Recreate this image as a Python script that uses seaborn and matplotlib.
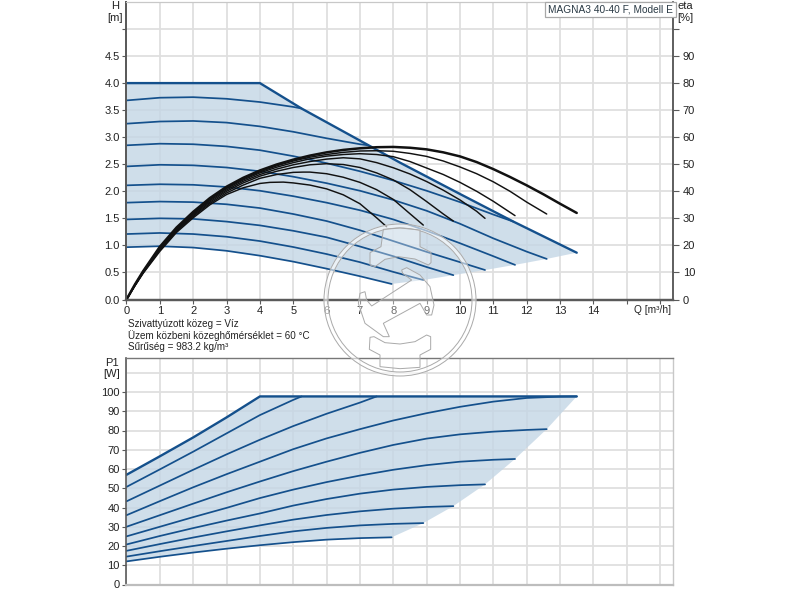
import matplotlib
matplotlib.use('Agg')
import matplotlib.pyplot as plt
import seaborn as sns
from matplotlib.patches import Polygon, Circle
from matplotlib.transforms import Affine2D

# H curves, blue, top to bottom: (Q, H)
h_limit_q = [0, 4, 5.25, 7.2, 8.2, 10, 11.6, 13.5]
h_limit = [4.0, 4.0, 3.53, 2.87, 2.53, 1.95, 1.44, 0.865]
h1_q = [0, 1, 2, 3, 4, 5, 5.25]
h1 = [3.68, 3.73, 3.74, 3.71, 3.65, 3.56, 3.53]
h2_q = [0, 1, 2, 3, 4, 5, 6, 7, 7.25]
h2 = [3.25, 3.29, 3.30, 3.27, 3.20, 3.10, 2.98, 2.87, 2.85]
h3_q = [0, 1, 2, 3, 4, 5, 6, 7, 8, 9, 10, 11, 11.6]
h3 = [2.85, 2.88, 2.87, 2.83, 2.76, 2.65, 2.52, 2.37, 2.20, 2.01, 1.80, 1.57, 1.44]
h4_q = [0, 1, 2, 3, 4, 5, 6, 7, 8, 9, 10, 11, 12, 12.6]
h4 = [2.46, 2.49, 2.48, 2.44, 2.37, 2.27, 2.15, 2.01, 1.84, 1.64, 1.40, 1.13, 0.885, 0.75]
h5_q = [0, 1, 2, 3, 4, 5, 6, 7, 8, 9, 10, 11, 11.65]
h5 = [2.11, 2.13, 2.12, 2.08, 2.01, 1.91, 1.79, 1.65, 1.48, 1.27, 1.04, 0.80, 0.64]
h6_q = [0, 1, 2, 3, 4, 5, 6, 7, 8, 9, 10, 10.75]
h6 = [1.79, 1.81, 1.80, 1.76, 1.69, 1.58, 1.45, 1.28, 1.08, 0.88, 0.69, 0.545]
h7_q = [0, 1, 2, 3, 4, 5, 6, 7, 8, 9, 9.8]
h7 = [1.48, 1.50, 1.49, 1.44, 1.37, 1.27, 1.15, 0.98, 0.80, 0.60, 0.45]
h8_q = [0, 1, 2, 3, 4, 5, 6, 7, 8, 8.9]
h8 = [1.21, 1.23, 1.21, 1.16, 1.08, 0.97, 0.84, 0.69, 0.51, 0.36]
h9_q = [0, 1, 2, 3, 4, 5, 6, 7, 7.95]
h9 = [0.967, 0.985, 0.96, 0.90, 0.81, 0.70, 0.57, 0.43, 0.287]

# efficiency curves, black: (Q, eta)
e_low_q = [0, 0.25, 0.5, 1, 1.5, 2, 2.5, 3, 3.5]
e1_q = e_low_q + [4, 4.5, 5, 5.5, 6, 6.5, 7, 7.5, 8, 8.5, 9, 9.5, 10, 10.5, 11, 11.5, 12, 12.5, 13, 13.5]
e1 = [0, 5.5, 10.5, 19.5, 26.6, 32.4, 37.5, 41.7, 45.0,
      47.7, 49.9, 51.7, 53.2, 54.4, 55.3, 55.9, 56.3, 56.4, 56.1, 55.5, 54.4, 52.9, 50.8, 48.2, 45.3, 42.2, 38.9, 35.4, 32]
e2_q = e_low_q + [4, 4.5, 5, 5.5, 6, 6.5, 7, 7.5, 8, 8.5, 9, 9.5, 10, 10.5, 11, 11.5, 12, 12.6]
e2 = [0, 5.4, 10.4, 19.3, 26.3, 32.1, 37.2, 41.3, 44.6,
      47.2, 49.4, 51.2, 52.6, 53.6, 54.4, 54.9, 55, 54.8, 54, 52.9, 51.2, 49, 46.5, 43.5, 40, 36, 31.6]
e3_q = e_low_q + [4, 4.5, 5, 5.5, 6, 6.5, 7, 7.5, 8, 8.5, 9, 9.5, 10, 10.5, 11, 11.65]
e3 = [0, 5.4, 10.3, 19.1, 26.0, 31.8, 36.9, 41.0, 44.2,
      46.8, 48.9, 50.6, 52, 53, 53.6, 53.9, 53.6, 52.8, 51, 48.6, 46.2, 43.3, 40, 36.3, 31]
e4_q = e_low_q + [4, 4.5, 5, 5.5, 6, 6.5, 7, 7.5, 8, 8.5, 9, 9.5, 10, 10.5, 10.75]
e4 = [0, 5.3, 10.2, 18.9, 25.8, 31.5, 36.5, 40.5, 43.7,
      46.2, 48.2, 49.8, 51, 51.9, 52.4, 52, 50.6, 48.7, 46.4, 43.6, 40.4, 36.8, 32.6, 30]
e5_q = e_low_q + [4, 4.5, 5, 5.5, 6, 6.5, 7, 7.5, 8, 8.5, 9, 9.5, 9.8]
e5 = [0, 5.2, 10.0, 18.6, 25.5, 31.1, 36.0, 40.0, 43.1,
      45.6, 47.4, 48.8, 49.8, 50.2, 49.9, 48.8, 46.8, 44.2, 40.6, 36.2, 31.6, 29]
e6_q = e_low_q + [4, 4.5, 5, 5.3, 5.5, 6, 6.5, 7, 7.5, 8, 8.5, 8.9]
e6 = [0, 5.1, 9.9, 18.2, 25.2, 30.7, 35.5, 39.4, 42.3,
      44.8, 46.2, 47, 47.1, 47.1, 46.5, 45.2, 43.3, 40.6, 37, 31.7, 27.5]
e7_q = e_low_q + [4, 4.3, 4.7, 5, 5.5, 6, 6.5, 7, 7.5, 7.8]
e7 = [0, 5.0, 9.7, 17.8, 24.8, 30.2, 35.0, 38.8, 41.3,
      42.9, 43.3, 43.4, 43.1, 42.3, 40.9, 38.7, 35.4, 30.2, 26.9]

# P1 curves, blue, top to bottom: (Q, P1)
p_limit_q = [0, 1, 2, 3, 4, 13.5]
p_limit = [57, 66.6, 76.4, 86.8, 97.7, 97.7]
p1_q = [0, 1, 2, 3, 4, 5, 5.25]
p1 = [50.7, 59.8, 69, 78.5, 88, 95.9, 97.7]
p2_q = [0, 1, 2, 3, 4, 5, 6, 7, 7.5]
p2 = [43.2, 51.4, 59.6, 67.6, 75.2, 82.3, 88.7, 94.5, 97.7]
p3_q = [0, 1, 2, 3, 4, 5, 6, 7, 8, 9, 10, 11, 12, 13, 13.5]
p3 = [36, 43.3, 50.5, 57.3, 63.8, 70.3, 75.9, 80.7, 85.2, 89, 92.3, 95, 96.9, 97.6, 97.7]
p4_q = [0, 1, 2, 3, 4, 5, 6, 7, 8, 9, 10, 11, 12, 12.6]
p4 = [30, 36, 42, 47.9, 53.5, 58.9, 63.8, 68.4, 72.5, 75.8, 78, 79.4, 80.3, 80.7]
p5_q = [0, 1, 2, 3, 4, 5, 6, 7, 8, 9, 10, 11, 11.65]
p5 = [25, 30, 35, 39.8, 44.9, 49.3, 53.2, 56.6, 59.6, 62, 63.8, 64.8, 65.2]
p6_q = [0, 1, 2, 3, 4, 5, 6, 7, 8, 9, 10, 10.75]
p6 = [20.8, 25.2, 29.3, 33.2, 36.9, 41, 44.4, 47.2, 49.3, 50.7, 51.6, 52]
p7_q = [0, 1, 2, 3, 4, 5, 6, 7, 8, 9, 9.8]
p7 = [17.5, 21, 24.4, 27.6, 30.7, 33.7, 36.1, 38, 39.4, 40.3, 40.7]
p8_q = [0, 1, 2, 3, 4, 5, 6, 7, 8, 8.9]
p8 = [14.5, 17.3, 20, 22.6, 25.2, 27.6, 29.4, 30.7, 31.5, 31.9]
p9_q = [0, 1, 2, 3, 4, 5, 6, 7, 7.95]
p9 = [12, 14.4, 16.6, 18.6, 20.4, 22, 23.3, 24.1, 24.5]

# lower right edge of both shaded areas
edge_q = [7.95, 8.9, 9.8, 10.75, 11.65, 12.6, 13.5]
edge_h = [0.287, 0.36, 0.45, 0.545, 0.64, 0.75, 0.865]
edge_p = [24.5, 31.9, 40.7, 52, 65.2, 80.7, 97.7]

q_ticks = list(range(0, 15))
h_ticks = [0.0, 0.5, 1.0, 1.5, 2.0, 2.5, 3.0, 3.5, 4.0, 4.5]
eta_ticks = [0, 10, 20, 30, 40, 50, 60, 70, 80, 90]
p_ticks = [0, 10, 20, 30, 40, 50, 60, 70, 80, 90, 100]

BLUE = '#14508c'
FILL = '#c4d6e5'
GRID = '#dfdfdf'
DARK = '#5a5a5a'
TEXT = '#222222'

sns.set_theme(style='whitegrid')
plt.rcParams['font.family'] = ['Liberation Sans', 'DejaVu Sans']
plt.rcParams['font.size'] = 8

fig = plt.figure(figsize=(8, 6), dpi=100)
W, H = 800.0, 600.0
x_max = (673 - 126.5) / 33.35


def setup(ax):
    ax.set_xlim(0, x_max)
    ax.set_xticks(range(0, 17))
    ax.grid(True, color=GRID, linewidth=1.3)
    ax.set_axisbelow(True)
    ax.set_xlabel('')
    ax.set_ylabel('')
    ax.tick_params(axis='both', length=3, width=0.8, color=DARK,
                   labelsize=8, labelcolor=TEXT, pad=2,
                   left=True, bottom=True)


def blue(ax, q, v, lw=1.25):
    sns.lineplot(x=q, y=v, ax=ax, color=BLUE, linewidth=lw, sort=False, errorbar=None)


# top chart
ax = fig.add_axes([126.5 / W, 1 - 299.5 / H, (673 - 126.5) / W, (299.5 - 2) / H])
setup(ax)
ax.set_ylim(0, 297.5 / 54.1)
ax.set_yticks(h_ticks + [5.0])
ax.set_yticklabels(['%.1f' % t for t in h_ticks] + [''])
ax.yaxis.get_major_ticks()[-1].tick1line.set_visible(False)
ax.set_xticklabels([str(t) for t in q_ticks] + ['', ''])
ax.fill(h9_q + edge_q + h_limit_q[::-1][1:],
        h9 + edge_h + h_limit[::-1][1:], color=FILL, alpha=0.8, linewidth=0, zorder=1.5)
for q, v in [(h1_q, h1), (h2_q, h2), (h3_q, h3), (h4_q, h4), (h5_q, h5),
             (h6_q, h6), (h7_q, h7), (h8_q, h8), (h9_q, h9)]:
    blue(ax, q, v)
blue(ax, h_limit_q, h_limit, lw=1.7)

ax2 = ax.twinx()
ax2.set_ylim(0, 297.5 / 54.1 * 20)
ax2.grid(False)
ax2.set_yticks(eta_ticks + [100])
ax2.set_yticklabels([str(t) for t in eta_ticks] + [''])
ax2.tick_params(axis='y', length=4, width=0.8, color=DARK, labelsize=8,
                labelcolor=TEXT, pad=3, right=True)
for q, v in [(e7_q, e7), (e6_q, e6), (e5_q, e5), (e4_q, e4), (e3_q, e3), (e2_q, e2)]:
    sns.lineplot(x=q, y=v, ax=ax2, color='#111111', linewidth=1.05, sort=False, errorbar=None)
sns.lineplot(x=e1_q, y=e1, ax=ax2, color='#111111', linewidth=1.8, sort=False, errorbar=None)
ax2.set_ylabel('')
for a in (ax, ax2):
    a.spines['left'].set_color(DARK)
    a.spines['left'].set_linewidth(1.3)
    a.spines['bottom'].set_color(DARK)
    a.spines['bottom'].set_linewidth(1.6)
    a.spines['right'].set_color(DARK)
    a.spines['right'].set_linewidth(1.1)
    a.spines['top'].set_color('#c8c8c8')
    a.spines['top'].set_linewidth(0.8)

# bottom chart
ax3 = fig.add_axes([126.5 / W, 1 - 584.5 / H, (673 - 126.5) / W, (584.5 - 358) / H])
setup(ax3)
ax3.set_ylim(0, 226.5 / 1.925)
ax3.set_yticks(p_ticks + [110])
ax3.set_yticklabels([str(t) for t in p_ticks] + [''])
ax3.yaxis.get_major_ticks()[-1].tick1line.set_visible(False)
ax3.set_xticklabels([])
ax3.tick_params(axis='x', length=0)
ax3.fill(p9_q + edge_q + p_limit_q[::-1][1:],
         p9 + edge_p + p_limit[::-1][1:], color=FILL, alpha=0.8, linewidth=0, zorder=1.5)
for q, v in [(p1_q, p1), (p2_q, p2), (p3_q, p3), (p4_q, p4), (p5_q, p5),
             (p6_q, p6), (p7_q, p7), (p8_q, p8), (p9_q, p9)]:
    blue(ax3, q, v)
blue(ax3, p_limit_q, p_limit, lw=1.7)
ax3.spines['left'].set_color(DARK)
ax3.spines['left'].set_linewidth(1.2)
ax3.spines['top'].set_color('#777777')
ax3.spines['top'].set_linewidth(1.0)
ax3.spines['bottom'].set_color('#bdbdbd')
ax3.spines['bottom'].set_linewidth(1.6)
ax3.spines['right'].set_color('#c8c8c8')
ax3.spines['right'].set_linewidth(1.0)


def label(x, y, s, ha='center', size=8):
    fig.text(x / W, 1 - y / H, s, ha=ha, va='center', fontsize=size, color=TEXT)


label(115, 6, 'H')
label(115, 18, '[m]')
label(685, 6, 'eta')
label(685, 18, '[%]')
label(112, 363, 'P1')
label(112, 374, '[W]')
label(634, 310, 'Q [m³/h]', ha='left', size=7.3)
label(128, 324, 'Szivattyúzott közeg = Víz', ha='left', size=7.1)
label(128, 336, 'Üzem közbeni közeghőmérséklet = 60 °C', ha='left', size=7.1)
label(128, 347, 'Sűrűség = 983.2 kg/m³', ha='left', size=7.1)
fig.text(548 / W, 1 - 9.5 / H, 'MAGNA3 40-40 F, Modell E', ha='left', va='center',
         fontsize=7.3, color='#2a3a45', zorder=6,
         bbox=dict(boxstyle='square,pad=0.28', fc='white', ec='#a8a8a8', lw=0.9))

# watermark logo, in picture pixels
px = Affine2D().scale(1 / W, -1 / H).translate(0, 1) + fig.transFigure
MARK = '#a9a9a9'


def zoomed(points):
    return [(320 + x / 3, 220 + y / 3) for x, y in points]


def shape(points):
    fig.add_artist(Polygon(zoomed(points), closed=True, fc=(1, 1, 1, 0.35), ec=MARK,
                           lw=0.7, transform=px, zorder=5))


fig.add_artist(Circle((400, 300), 74, fc='none', ec=(1, 1, 1, 0.6), lw=3.5, transform=px, zorder=5))
fig.add_artist(Circle((400, 300), 76, fc='none', ec=MARK, lw=0.7, transform=px, zorder=5))
fig.add_artist(Circle((400, 300), 72, fc='none', ec=MARK, lw=0.7, transform=px, zorder=5))
shape([(190, 28), (240, 24), (300, 30), (300, 80), (333, 97), (333, 128), (325, 135),
       (285, 117), (235, 110), (195, 118), (165, 140), (150, 135), (150, 98), (183, 80)])
shape([(150, 352), (162, 350), (195, 368), (240, 372), (285, 365), (320, 345), (332, 350),
       (332, 388), (300, 405), (300, 442), (240, 446), (180, 440), (180, 405), (148, 388)])
shape([(260, 143), (245, 150), (248, 160), (275, 180), (155, 258), (140, 240), (135, 215),
       (120, 220), (115, 250), (135, 310), (190, 350), (208, 350), (190, 310), (300, 250),
       (320, 285), (335, 285), (342, 255), (330, 200), (300, 165)])

plt.savefig('out.png', dpi=100)
